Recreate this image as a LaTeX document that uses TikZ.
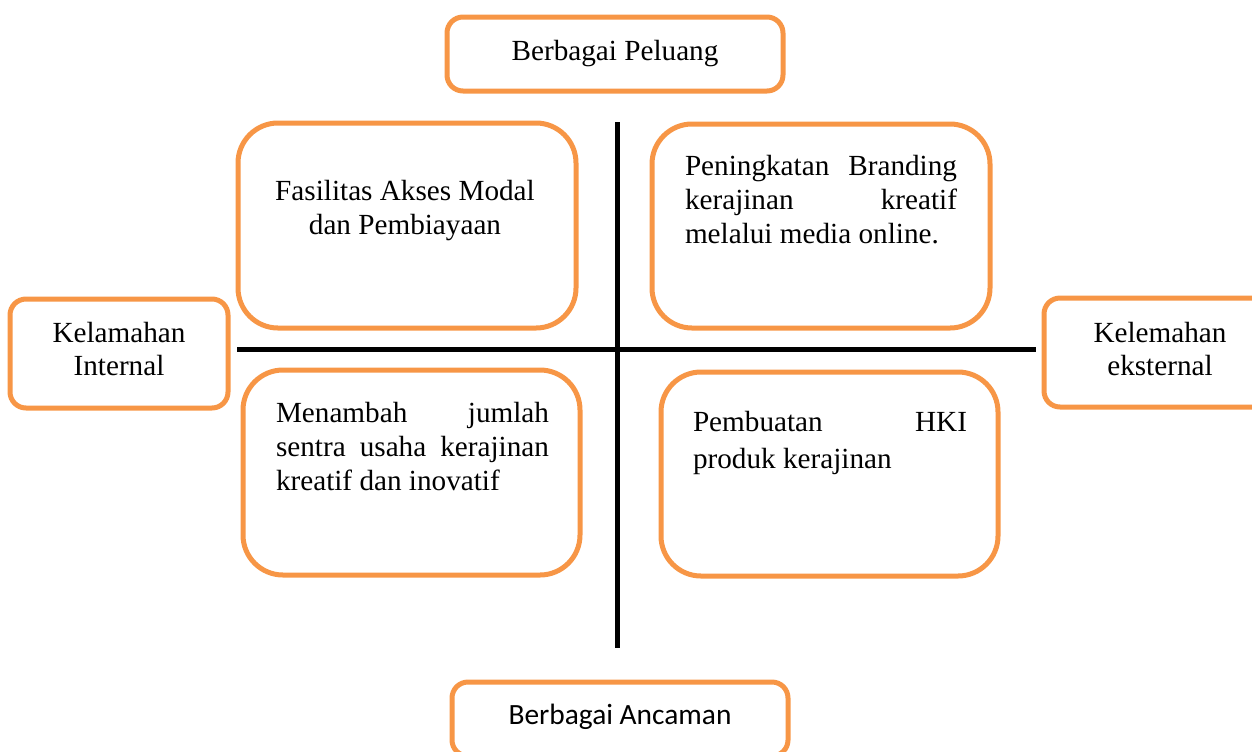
\documentclass[tikz,border=0pt]{standalone}
\usepackage{fontspec}
\setmainfont{Liberation Serif}
\newfontfamily\calibrifont{Carlito}
\begin{document}
\begin{tikzpicture}[x=0.5pt,y=-0.5pt,
  obox/.style={draw=orangeline,line width=2.5pt,rectangle,rounded corners=#1,inner sep=0pt,fill=white},
  obox/.default=8pt,
  txt/.style={font=\fontsize{14.6pt}{17pt}\selectfont,inner sep=0pt,align=center},
  axis/.style={line width=2.5pt,black}]
\definecolor{orangeline}{HTML}{F79646}
\useasboundingbox (0,0) rectangle (1252,751);
\clip (0,0) rectangle (1252,751);
% small boxes
\node[obox,minimum width=168pt,minimum height=37pt] (peluang) at (615,54) {};
\node[txt] (peluangT) at (615,54) {Berbagai Peluang};
\node[obox,minimum width=109pt,minimum height=54.5pt] (ki) at (119,353.5) {};
\node[txt] (kiT) at (119,349) {Kelamahan\\Internal};
\node[obox,minimum width=115pt,minimum height=54.5pt] (ke) at (1159,352.5) {};
\node[txt] (keT) at (1160,349) {Kelemahan\\eksternal};
\node[obox,minimum width=168pt,minimum height=37pt] (ancaman) at (620,719) {};
\node[txt,font=\calibrifont\fontsize{14.7pt}{17pt}\selectfont] (ancamanT) at (620,717) {Berbagai Ancaman};
% big boxes
\node[obox=20pt,minimum width=169pt,minimum height=102.5pt] (fa) at (407,225.5) {};
\node[txt] (faT) at (405,211) {Fasilitas Akses Modal\\dan Pembiayaan};
\node[obox=20pt,minimum width=169pt,minimum height=102pt] (pb) at (821,226) {};
\node[txt,align=left] (pbT) at (821,200) {\makebox[136pt][s]{Peningkatan Branding}\\\makebox[136pt][s]{kerajinan kreatif}\\\makebox[136pt][l]{melalui media online.}};
\node[obox=20pt,minimum width=168.5pt,minimum height=102.5pt] (mb) at (411.5,472.5) {};
\node[txt,align=left] (mbT) at (412.5,446) {\makebox[136.5pt][s]{Menambah jumlah}\\\makebox[136.5pt][s]{sentra usaha kerajinan}\\\makebox[136.5pt][l]{kreatif dan inovatif}};
\node[obox=20pt,minimum width=168.5pt,minimum height=102pt] (ph) at (829.5,474) {};
\node[txt,align=left,font=\fontsize{14.6pt}{18.5pt}\selectfont] (phT) at (830,443) {\makebox[137pt][s]{Pembuatan HKI}\\\makebox[137pt][l]{produk kerajinan}};
% axes
\coordinate (vtop) at (617,122);
\coordinate (vbot) at (617,648);
\coordinate (hleft) at (237,349);
\coordinate (hright) at (1036,349);
\draw[axis] (vtop) -- (vbot);
\draw[axis] (hleft) -- (hright);
\end{tikzpicture}
\end{document}
